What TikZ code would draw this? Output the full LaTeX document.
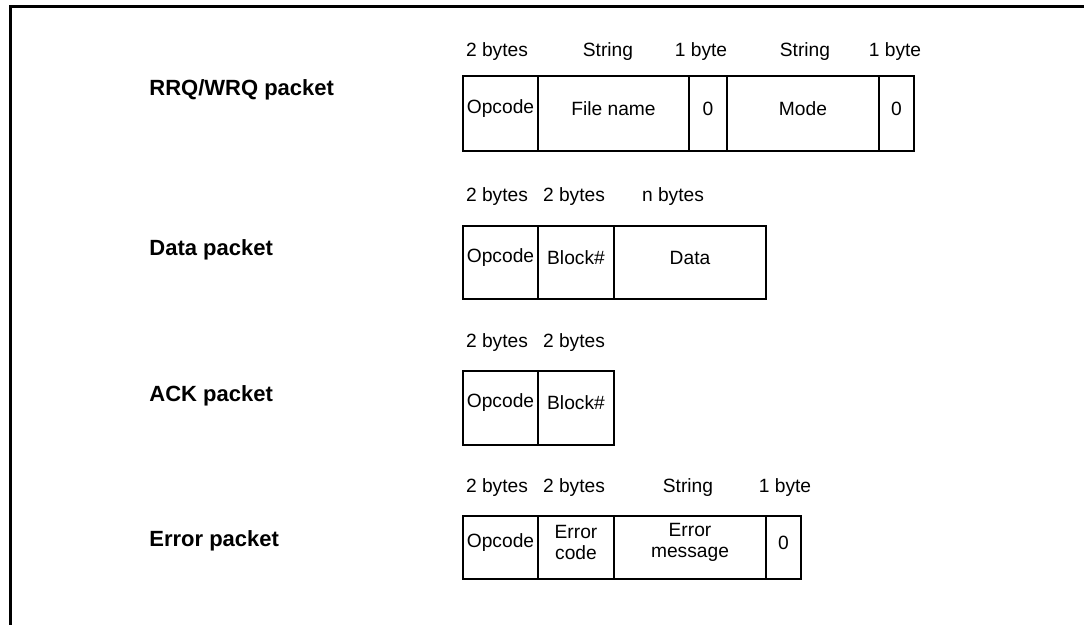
\documentclass[tikz,border=0pt]{standalone}
\usepackage{fontspec}
\setmainfont{Liberation Sans}
\begin{document}
\begin{tikzpicture}[x=0.5pt,y=-0.5pt,
  frame/.style={line width=1.5pt},
  cell/.style={draw,line width=1pt,anchor=north west,inner sep=0pt,minimum height=#1},
  celltext/.style={font=\fontsize{9.6}{10.6}\selectfont,align=center,inner sep=0pt,yshift=2.5pt},
  hdr/.style={font=\fontsize{9.6}{11}\selectfont,inner sep=0pt},
  pkt/.style={font=\bfseries\fontsize{11}{13}\selectfont,anchor=west,inner sep=0pt}]
\useasboundingbox (0,0) rectangle (1084,625);
% frame
\coordinate (fbl) at (10,625);
\coordinate (ftl) at (10,7);
\coordinate (ftr) at (1084,7);
\draw[frame] (fbl) -- (ftl) -- (ftr);
% packet names
\node[pkt] (n1) at (149,90) {RRQ/WRQ packet};
\node[pkt] (n2) at (149,250) {Data packet};
\node[pkt] (n3) at (149,396) {ACK packet};
\node[pkt] (n4) at (149,541) {Error packet};
% RRQ/WRQ
\node[cell=37.5pt,minimum width=37.5pt] (r1) at (462,75) {};
\node[cell=37.5pt,minimum width=75.5pt] (r2) at (537,75) {};
\node[cell=37.5pt,minimum width=19pt] (r3) at (688,75) {};
\node[cell=37.5pt,minimum width=76pt] (r4) at (726,75) {};
\node[cell=37.5pt,minimum width=17.5pt] (r5) at (878,75) {};
\node[celltext] at (r1.center) {Opcode};
\node[celltext] at (r2.center) {File name};
\node[celltext] at (r3.center) {0};
\node[celltext] at (r4.center) {Mode};
\node[celltext] at (r5.center) {0};
\node[hdr] at (497,52) {2 bytes};
\node[hdr] at (608,52) {String};
\node[hdr] at (701,52) {1 byte};
\node[hdr] at (805,52) {String};
\node[hdr] at (895,52) {1 byte};
% Data
\node[cell=36.5pt,minimum width=37.5pt] (d1) at (462,225) {};
\node[cell=36.5pt,minimum width=38pt] (d2) at (537,225) {};
\node[cell=36.5pt,minimum width=76pt] (d3) at (613,225) {};
\node[celltext] at (d1.center) {Opcode};
\node[celltext] at (d2.center) {Block\#};
\node[celltext] at (d3.center) {Data};
\node[hdr] at (497,197) {2 bytes};
\node[hdr] at (574,197) {2 bytes};
\node[hdr] at (673,197) {n bytes};
% ACK
\node[cell=37pt,minimum width=37.5pt] (a1) at (462,370) {};
\node[cell=37pt,minimum width=38pt] (a2) at (537,370) {};
\node[celltext] at (a1.center) {Opcode};
\node[celltext] at (a2.center) {Block\#};
\node[hdr] at (497,343) {2 bytes};
\node[hdr] at (574,343) {2 bytes};
% Error
\node[cell=31.5pt,minimum width=37.5pt] (e1) at (462,515) {};
\node[cell=31.5pt,minimum width=38pt] (e2) at (537,515) {};
\node[cell=31.5pt,minimum width=76pt] (e3) at (613,515) {};
\node[cell=31.5pt,minimum width=17.5pt] (e4) at (765,515) {};
\node[celltext] at (e1.center) {Opcode};
\node[celltext] at (e2.center) {Error\\code};
\node[celltext] at (e3.center) {Error\\message};
\node[celltext] at (e4.center) {0};
\node[hdr] at (497,488) {2 bytes};
\node[hdr] at (574,488) {2 bytes};
\node[hdr] at (688,488) {String};
\node[hdr] at (785,488) {1 byte};
\end{tikzpicture}
\end{document}
